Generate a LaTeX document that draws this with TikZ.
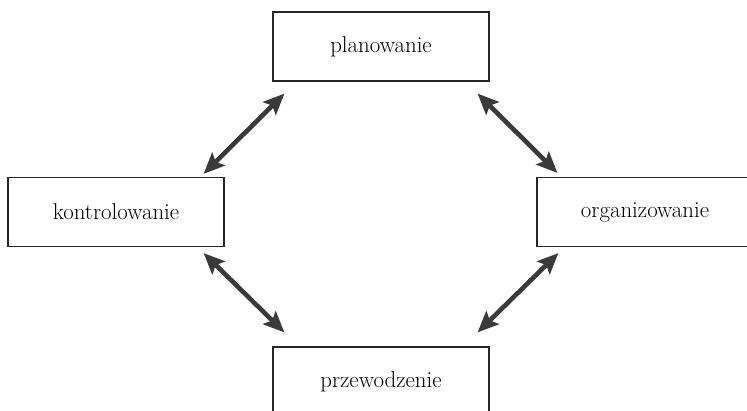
\documentclass[tikz,border=0pt]{standalone}
\usetikzlibrary{arrows.meta}
\definecolor{arrowgray}{HTML}{3A3A3A}
\begin{document}
\begin{tikzpicture}[x=1pt,y=-1pt,
  stagebox/.style={draw=black!85,line width=1.2pt,minimum width=216pt,minimum height=69pt,inner sep=0pt,
    font=\fontsize{22.9}{27}\selectfont},
  biarrow/.style={draw=arrowgray,line width=4.6pt,
    {Stealth[length=21pt,width=18pt,inset=4pt]}-{Stealth[length=21pt,width=18pt,inset=4pt]}}]
\useasboundingbox (0,0) rectangle (747,411);
\node[stagebox] (plan) at (381,46.5) {planowanie};
\node[stagebox] (kontr) at (116,212) {kontrolowanie};
\node[stagebox] (org) at (645,212) {organizowanie};
\node[stagebox] (przew) at (381,381.5) {przewodzenie};
\draw[biarrow] ([shift={(-21,-3)}]kontr.north east) -- ([shift={(12,12)}]plan.south west);
\draw[biarrow] ([shift={(-12,12)}]plan.south east) -- ([shift={(21,-4)}]org.north west);
\draw[biarrow] ([shift={(-21,6)}]kontr.south east) -- ([shift={(12,-14)}]przew.north west);
\draw[biarrow] ([shift={(22,6)}]org.south west) -- ([shift={(-12,-14)}]przew.north east);
\end{tikzpicture}
\end{document}
